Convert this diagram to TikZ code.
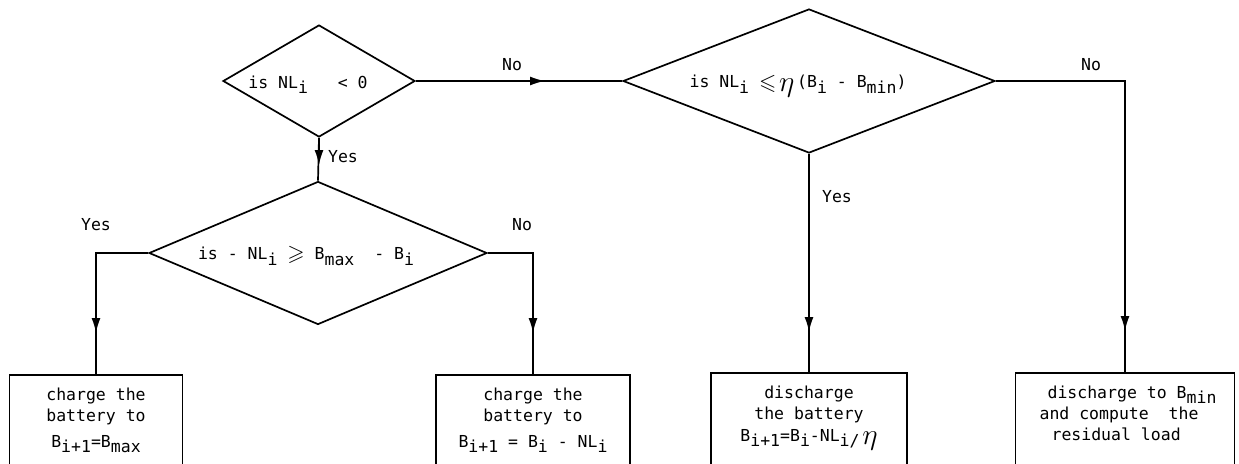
\documentclass[tikz,border=0pt]{standalone}
\usepackage{amssymb}
\usepackage{graphicx}
\usepackage{fontspec}
\setmainfont{DejaVu Sans Mono}
\usetikzlibrary{shapes.geometric,arrows.meta}
\newcommand\dn[1]{\raisebox{-0.6ex}{#1}}
\newcommand\bigeta{\raisebox{-0.35ex}{\scalebox{1.7}{$\eta$}}}
\newcommand\myleq{\raisebox{-0.15ex}{\scalebox{1.35}{$\leqslant$}}}
\newcommand\mygeq{\raisebox{-0.15ex}{\scalebox{1.35}{$\geqslant$}}}
\tikzset{
  dia/.style={draw, shape=diamond, aspect=2, inner sep=0pt, line width=1.7pt},
  procbox/.style={draw, rectangle, anchor=north, line width=1.7pt, inner xsep=0pt,
    inner ysep=13pt, text depth=80pt, align=center},
  lbl/.style={inner sep=0pt},
  conn/.style={line width=1.7pt},
  tip/.style={conn, -{Latex[length=15pt,width=9pt]}},
}
\begin{document}
\begin{tikzpicture}[x=1pt,y=-1pt,font=\fontsize{16.5}{21}\selectfont]
\useasboundingbox (0,0) rectangle (1239,463);
\clip (0,0) rectangle (1239,463);

% decisions
\node[dia, minimum width=192pt, minimum height=112pt,
  label={[lbl,xshift=-11pt,yshift=-4pt]center:{is NL\dn{i}\ \ \ < 0}}] (d1) at (319,81) {};
\node[dia, minimum width=372pt, minimum height=144pt,
  label={[lbl,xshift=-11pt,yshift=-5pt]center:{is NL\dn{i} \myleq\,\bigeta\,(B\dn{i} - B\dn{min})}}] (d2) at (809,81) {};
\node[dia, minimum width=338pt, minimum height=143pt,
  label={[lbl,xshift=-12pt,yshift=-3pt]center:{is - NL\dn{i} \mygeq\ B\dn{max}\ \ - B\dn{i}}}] (d3) at (318,253) {};

% processes
\node[procbox, minimum width=173pt] (b1) at (96,374)
  {charge the\\battery to\\[5pt]B\dn{i+1}=B\dn{max}};
\node[procbox, minimum width=194pt] (b2) at (533,374)
  {charge the\\battery to\\[5pt]B\dn{i+1} = B\dn{i} - NL\dn{i}};
\node[procbox, minimum width=196pt] (b3) at (809,372)
  {discharge\\the battery\\[1pt]B\dn{i+1}=B\dn{i}-NL\dn{i/}\,\bigeta};
\node[procbox, minimum width=219pt, align=left] (b4) at (1125,372)
  {\hspace*{14pt}discharge to B\dn{min}\\\hspace*{6pt}and compute\ \ the\\\hspace*{18pt}residual load};

% connectors (full line, then the mid-line arrowhead on top)
\coordinate (c1) at (545,81);
\draw[conn] (d1.east) -- (d2.west);
\draw[tip] (d1.east) -- (c1);

\coordinate (c2) at (319,165);
\draw[conn] (d1.south) -- (d3.north);
\draw[tip] (d1.south) -- (c2);

\coordinate (k3) at (96,253);
\coordinate (c3) at (96,333);
\draw[conn] (d3.west) -- (k3) -- (b1.north);
\draw[tip] (k3) -- (c3);

\coordinate (k4) at (533,253);
\coordinate (c4) at (533,333);
\draw[conn] (d3.east) -- (k4) -- (b2.north);
\draw[tip] (k4) -- (c4);

\coordinate (c5) at (809,332);
\draw[conn] (d2.south) -- (b3.north);
\draw[tip] (d2.south) -- (c5);

\coordinate (k6) at (1125,81);
\coordinate (c6) at (1125,331);
\draw[conn] (d2.east) -- (k6) -- (b4.north);
\draw[tip] (k6) -- (c6);

% branch labels
\node[lbl] (lno1) at (512,65) {No};
\node[lbl] (lyes1) at (343,157) {Yes};
\node[lbl] (lyes2) at (96,225) {Yes};
\node[lbl] (lno2) at (522,225) {No};
\node[lbl] (lyes3) at (837,197) {Yes};
\node[lbl] (lno3) at (1091,65) {No};
\end{tikzpicture}
\end{document}
